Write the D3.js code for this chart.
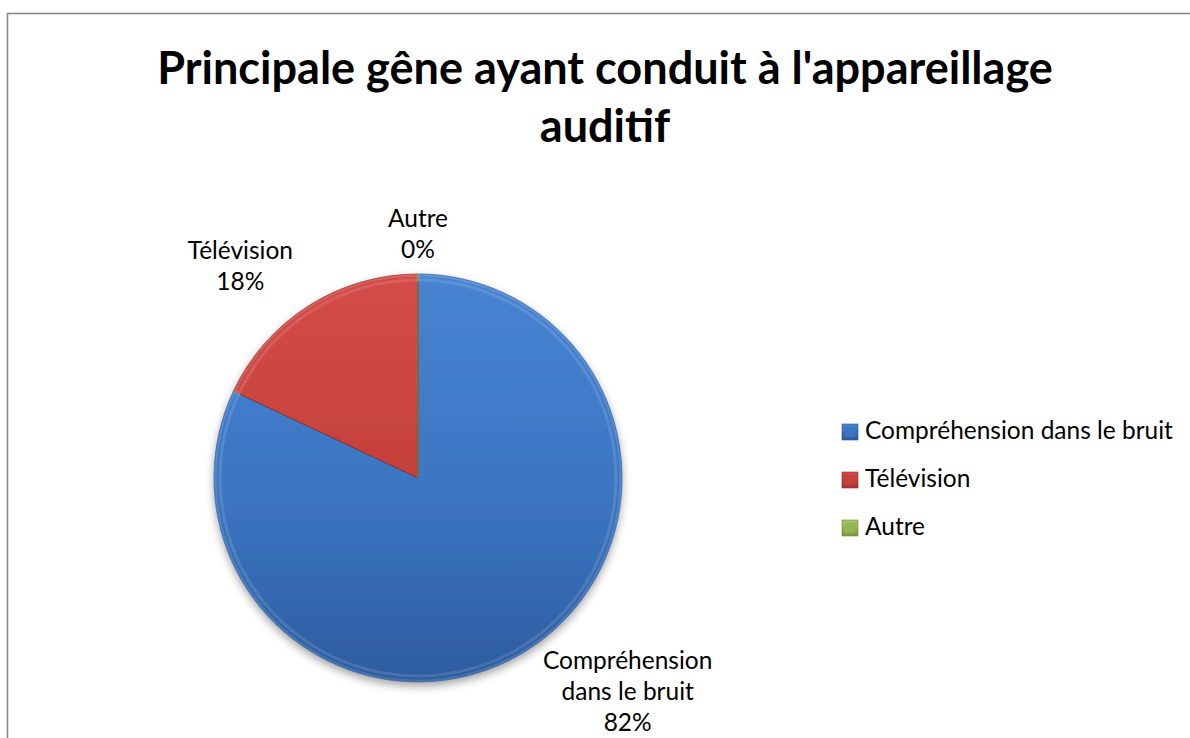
<!DOCTYPE html>
<html><head><meta charset="utf-8">
<script src="https://cdn.jsdelivr.net/npm/d3@7"></script>
<style>body{margin:0;background:#fff} svg{display:block}</style>
</head><body><svg id="c" width="1190" height="738"></svg>
<script>
// ---- data ----
const categories = ["Compréhension dans le bruit", "Télévision", "Autre"];
const values = [82, 18, 0];
const labelLines = [["Compréhension", "dans le bruit"], ["Télévision"], ["Autre"]];
const titleLines = ["Principale gêne ayant conduit à l'appareillage", "auditif"];

// ---- style ----
const FONT = "Lato, 'Open Sans', sans-serif";
const colors = [
  {top: "#4784d2", mid: "#3b75c2", bot: "#2d5c9f", edge: "#2a5490"},
  {top: "#d44c47", mid: "#c3403b", bot: "#a73330", edge: "#8a2a27"},
  {top: "#a8c96a", mid: "#93b654", bot: "#7a9a40", edge: "#6a8636"}
];

const svg = d3.select("#c");
const W = 1190, H = 738;
svg.append("rect").attr("width", W).attr("height", H).attr("fill", "#fff");
// chart border (extends beyond the view right/bottom)
svg.append("rect").attr("x", 7.5).attr("y", 13.5).attr("width", 1200).attr("height", 760)
  .attr("fill", "#fff").attr("stroke", "#8a8a8a").attr("stroke-width", 1.6);

const defs = svg.append("defs");
const cx = 418, cy = 478, R = 204;

colors.forEach((c, i) => {
  const g = defs.append("linearGradient").attr("id", "g" + i)
    .attr("gradientUnits", "userSpaceOnUse")
    .attr("x1", 0).attr("y1", -R).attr("x2", 0).attr("y2", R);
  g.append("stop").attr("offset", "0%").attr("stop-color", c.top);
  g.append("stop").attr("offset", "55%").attr("stop-color", c.mid);
  g.append("stop").attr("offset", "100%").attr("stop-color", c.bot);
  const lg = defs.append("linearGradient").attr("id", "lg" + i)
    .attr("x1", 0).attr("y1", 0).attr("x2", 0).attr("y2", 1);
  lg.append("stop").attr("offset", "0%").attr("stop-color", c.top);
  lg.append("stop").attr("offset", "100%").attr("stop-color", c.bot);
});
const f = defs.append("filter").attr("id", "sh").attr("x", "-20%").attr("y", "-20%").attr("width", "140%").attr("height", "140%");
f.append("feDropShadow").attr("dx", 0).attr("dy", 4).attr("stdDeviation", 4)
  .attr("flood-color", "#000").attr("flood-opacity", 0.35);

// ---- title ----
const title = svg.append("g");
const t1 = title.append("text").text(titleLines[0])
  .attr("font-family", FONT).attr("font-weight", 700).attr("font-size", 46);
const tw = t1.node().getComputedTextLength();
const titleSize = 46 * 896 / tw;
titleLines.forEach((s, i) => {
  const t = i === 0 ? t1 : title.append("text").text(s);
  t.attr("font-family", FONT).attr("font-weight", 700).attr("font-size", titleSize)
    .attr("text-anchor", "middle").attr("x", 605).attr("y", 84 + i * 58).attr("fill", "#000");
});

// label font size fitted so legend text matches reference width
const probe = svg.append("text").text(categories[0]).attr("font-family", FONT).attr("font-size", 26);
const labSize = 26 * 308 / probe.node().getComputedTextLength();
probe.remove();

// ---- pie ----
const total = d3.sum(values);
const pie = d3.pie().sort(null).value(d => d)(values);
const arc = d3.arc().innerRadius(0).outerRadius(R);
const g = svg.append("g").attr("transform", `translate(${cx},${cy})`);
g.append("g").attr("filter", "url(#sh)").selectAll("path").data(pie).join("path")
  .attr("d", arc)
  .attr("fill", (d, i) => `url(#g${i})`)
  .attr("stroke", (d, i) => colors[i].edge)
  .attr("stroke-width", 0.8)
  .attr("stroke-linejoin", "round");
// soft bevel highlight along rim
g.append("g").selectAll("path").data(pie.filter(d => d.value > 0)).join("path")
  .attr("d", d3.arc().innerRadius(R - 6).outerRadius(R - 1))
  .attr("fill", "none").attr("stroke", "#fff").attr("stroke-opacity", 0.12).attr("stroke-width", 3);

// ---- data labels ----
const LH = 31;
const labR = R + 5;
const padX = 13;
pie.forEach((d, i) => {
  const a = (d.startAngle + d.endAngle) / 2;
  const s = Math.sin(a), c = Math.cos(a);
  const lines = labelLines[i].concat([Math.round(values[i] / total * 100) + "%"]);
  const px = cx + labR * s, py = cy - labR * c;
  let w = 0;
  lines.forEach(l => {
    const t = svg.append("text").text(l).attr("font-family", FONT).attr("font-size", labSize);
    w = Math.max(w, t.node().getComputedTextLength()); t.remove();
  });
  const h = lines.length * LH;
  const sx = Math.abs(s) < 0.05 ? 0 : Math.sign(s);
  const sy = Math.abs(c) < 0.05 ? 0 : -Math.sign(c);
  const bx = px + sx * (w / 2 + padX);
  const by = py + sy * h / 2 - 4 - (sy > 0 ? 5 : 0);
  const top = by - h / 2;
  const t = svg.append("text").attr("font-family", FONT).attr("font-size", labSize)
    .attr("text-anchor", "middle").attr("fill", "#000");
  lines.forEach((l, k) => {
    t.append("tspan").attr("x", bx).attr("y", top + k * LH + LH / 2 + labSize * 0.33).text(l);
  });
});

// ---- legend ----
const leg = svg.append("g").selectAll("g").data(categories).join("g")
  .attr("transform", (d, i) => `translate(842,${439 + i * 48})`);
leg.append("rect").attr("x", 0).attr("y", -15).attr("width", 16).attr("height", 16)
  .attr("fill", (d, i) => `url(#lg${i})`).attr("stroke", (d, i) => colors[i].edge).attr("stroke-width", 0.6);
leg.append("rect").attr("x", 3).attr("y", -12).attr("width", 10).attr("height", 10)
  .attr("fill", (d, i) => colors[i].mid);
leg.append("text").attr("x", 23).attr("y", 0).text(d => d)
  .attr("font-family", FONT).attr("font-size", labSize).attr("fill", "#000");
</script></body></html>
